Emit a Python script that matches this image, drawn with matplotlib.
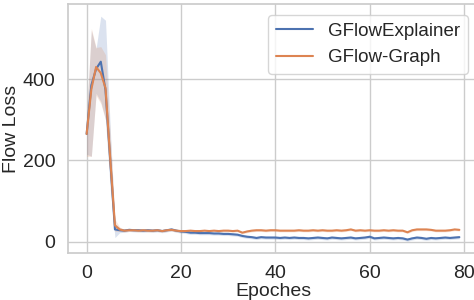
import numpy as np
import matplotlib
matplotlib.use("Agg")
import matplotlib.pyplot as plt
import seaborn as sns

sns.set_theme(style="whitegrid")
plt.rcParams['font.family'] = ['Liberation Sans', 'DejaVu Sans']

epochs = list(range(80))
labels = ["GFlowExplainer", "GFlow-Graph"]

# mean flow loss per epoch
explainer_mean = [265, 385, 425, 443, 373, 200, 30, 28, 27, 29,
                  28, 28, 27, 28, 27, 28, 26, 28, 30, 27,
                  25, 24, 22, 22, 21, 21, 21, 20, 20, 19,
                  19, 18, 17, 14, 12, 11, 9, 11, 10, 10,
                  10, 9, 10, 9, 10, 9, 9, 8, 9, 10,
                  9, 8, 10, 9, 8, 9, 10, 8, 9, 10,
                  12, 8, 9, 10, 9, 8, 9, 8, 5, 8,
                  10, 9, 7, 9, 8, 9, 10, 9, 10, 11]
graph_mean = [265, 375, 430, 415, 378, 205, 40, 30, 27, 28,
              28, 27, 28, 27, 27, 28, 26, 28, 29, 27,
              26, 26, 27, 26, 26, 27, 26, 27, 26, 27,
              27, 26, 27, 22, 25, 27, 28, 28, 27, 28,
              28, 27, 27, 27, 27, 28, 27, 27, 28, 27,
              28, 27, 27, 28, 27, 28, 30, 27, 28, 27,
              28, 27, 27, 28, 27, 28, 27, 27, 23, 28,
              30, 30, 30, 29, 27, 27, 27, 28, 30, 29]

# confidence band, first epochs (lower, upper)
explainer_lo_start = [215, 210, 365, 345, 300, 130, 10, 22]
explainer_hi_start = [310, 520, 475, 555, 545, 280, 45, 34]
graph_lo_start = [210, 210, 360, 340, 300, 150, 25, 25]
graph_hi_start = [315, 525, 478, 480, 460, 265, 55, 36]
# half-width of band after epoch 7
explainer_spread = 4
graph_spread = 3

fig = plt.figure(figsize=(4.74, 3.0), dpi=100)
ax = fig.add_axes([68 / 474, 47 / 300, 410 / 474, 249 / 300])

colors = ["#4C72B0", "#DD8452"]
series = [
    (explainer_mean, explainer_lo_start, explainer_hi_start, explainer_spread),
    (graph_mean, graph_lo_start, graph_hi_start, graph_spread),
]
for (mean, lo0, hi0, sp), lab, c in zip(series, labels, colors):
    m = np.array(mean, dtype=float)
    lo = m - sp
    hi = m + sp
    lo[:len(lo0)] = lo0
    hi[:len(hi0)] = hi0
    ax.fill_between(epochs, lo, hi, color=c, alpha=0.2, linewidth=0)
    ax.plot(epochs, m, color=c, lw=1.5, label=lab)

ax.set_xlim(-3.95, 82.95)
ax.set_ylim(-28, 585)
ax.set_xticks([0, 20, 40, 60, 80])
ax.set_yticks([0, 200, 400])
ax.tick_params(labelsize=14, pad=3)
ax.set_xlabel("Epoches", fontsize=14, labelpad=0)
ax.set_ylabel("Flow Loss", fontsize=14, labelpad=2)
ax.legend(loc="upper right", fontsize=13.5, bbox_to_anchor=(0.9756, 0.956),
          handlelength=2.0, borderaxespad=0)

fig.savefig("out.png", dpi=100)
